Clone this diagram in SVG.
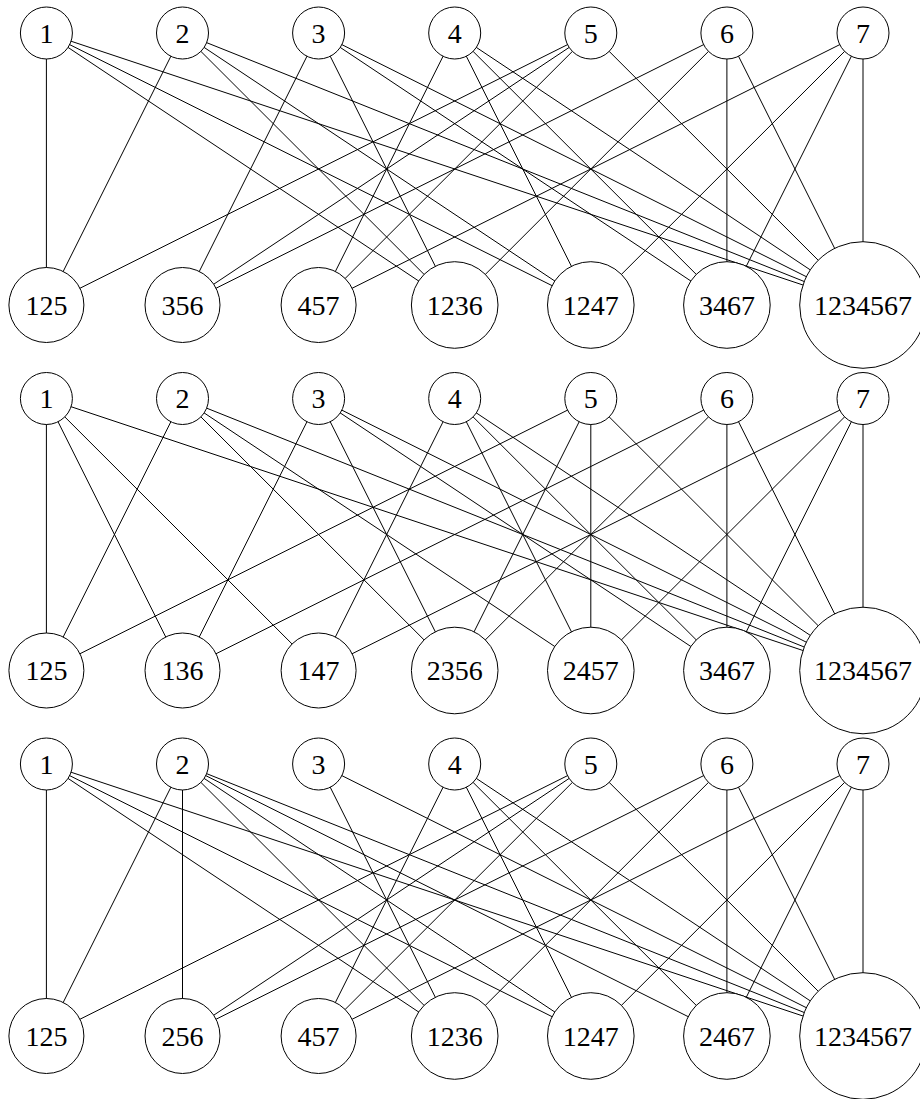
<svg xmlns="http://www.w3.org/2000/svg" width="920" height="1099" viewBox="0 0 920 1099">
  <style>
    .edge { stroke: #000; stroke-width: 1; fill: none; }
    .node circle { fill: #fff; stroke: #000; stroke-width: 1; }
    .node text { font-family: "Liberation Serif", "Times New Roman", serif; font-size: 28px; text-anchor: middle; fill: #000; }
  </style>

  <!-- Graph A: top row y=33, bottom row y=305 -->
  <g id="graph-a">
    <g id="edges-a">
      <line class="edge" x1="46.4" y1="33" x2="46.4" y2="305"/>
      <line class="edge" x1="46.4" y1="33" x2="454.7" y2="305"/>
      <line class="edge" x1="46.4" y1="33" x2="590.8" y2="305"/>
      <line class="edge" x1="46.4" y1="33" x2="863" y2="305"/>
      <line class="edge" x1="182.5" y1="33" x2="46.4" y2="305"/>
      <line class="edge" x1="182.5" y1="33" x2="454.7" y2="305"/>
      <line class="edge" x1="182.5" y1="33" x2="590.8" y2="305"/>
      <line class="edge" x1="182.5" y1="33" x2="863" y2="305"/>
      <line class="edge" x1="318.6" y1="33" x2="182.5" y2="305"/>
      <line class="edge" x1="318.6" y1="33" x2="454.7" y2="305"/>
      <line class="edge" x1="318.6" y1="33" x2="726.9" y2="305"/>
      <line class="edge" x1="318.6" y1="33" x2="863" y2="305"/>
      <line class="edge" x1="454.7" y1="33" x2="318.6" y2="305"/>
      <line class="edge" x1="454.7" y1="33" x2="590.8" y2="305"/>
      <line class="edge" x1="454.7" y1="33" x2="726.9" y2="305"/>
      <line class="edge" x1="454.7" y1="33" x2="863" y2="305"/>
      <line class="edge" x1="590.8" y1="33" x2="46.4" y2="305"/>
      <line class="edge" x1="590.8" y1="33" x2="182.5" y2="305"/>
      <line class="edge" x1="590.8" y1="33" x2="318.6" y2="305"/>
      <line class="edge" x1="590.8" y1="33" x2="863" y2="305"/>
      <line class="edge" x1="726.9" y1="33" x2="182.5" y2="305"/>
      <line class="edge" x1="726.9" y1="33" x2="454.7" y2="305"/>
      <line class="edge" x1="726.9" y1="33" x2="726.9" y2="305"/>
      <line class="edge" x1="726.9" y1="33" x2="863" y2="305"/>
      <line class="edge" x1="863" y1="33" x2="318.6" y2="305"/>
      <line class="edge" x1="863" y1="33" x2="590.8" y2="305"/>
      <line class="edge" x1="863" y1="33" x2="726.9" y2="305"/>
      <line class="edge" x1="863" y1="33" x2="863" y2="305"/>
    </g>
    <g id="a-1" class="node"><circle cx="46.4" cy="33" r="26"/><text x="46.4" y="42.5">1</text></g>
    <g id="a-2" class="node"><circle cx="182.5" cy="33" r="26"/><text x="182.5" y="42.5">2</text></g>
    <g id="a-3" class="node"><circle cx="318.6" cy="33" r="26"/><text x="318.6" y="42.5">3</text></g>
    <g id="a-4" class="node"><circle cx="454.7" cy="33" r="26"/><text x="454.7" y="42.5">4</text></g>
    <g id="a-5" class="node"><circle cx="590.8" cy="33" r="26"/><text x="590.8" y="42.5">5</text></g>
    <g id="a-6" class="node"><circle cx="726.9" cy="33" r="26"/><text x="726.9" y="42.5">6</text></g>
    <g id="a-7" class="node"><circle cx="863" cy="33" r="26"/><text x="863" y="42.5">7</text></g>
    <g id="a-125" class="node"><circle cx="46.4" cy="305" r="37.5"/><text x="46.4" y="314.5">125</text></g>
    <g id="a-356" class="node"><circle cx="182.5" cy="305" r="37.5"/><text x="182.5" y="314.5">356</text></g>
    <g id="a-457" class="node"><circle cx="318.6" cy="305" r="37.5"/><text x="318.6" y="314.5">457</text></g>
    <g id="a-1236" class="node"><circle cx="454.7" cy="305" r="43.3"/><text x="454.7" y="314.5">1236</text></g>
    <g id="a-1247" class="node"><circle cx="590.8" cy="305" r="43.3"/><text x="590.8" y="314.5">1247</text></g>
    <g id="a-3467" class="node"><circle cx="726.9" cy="305" r="43.3"/><text x="726.9" y="314.5">3467</text></g>
    <g id="a-1234567" class="node"><circle cx="863" cy="305" r="63.3"/><text x="863" y="314.5">1234567</text></g>
  </g>

  <!-- Graph B: same layout, shifted down -->
  <g id="graph-b" transform="translate(0,365.5)">
    <g id="edges-b">
      <line class="edge" x1="46.4" y1="33" x2="46.4" y2="305"/>
      <line class="edge" x1="46.4" y1="33" x2="182.5" y2="305"/>
      <line class="edge" x1="46.4" y1="33" x2="318.6" y2="305"/>
      <line class="edge" x1="46.4" y1="33" x2="863" y2="305"/>
      <line class="edge" x1="182.5" y1="33" x2="46.4" y2="305"/>
      <line class="edge" x1="182.5" y1="33" x2="454.7" y2="305"/>
      <line class="edge" x1="182.5" y1="33" x2="590.8" y2="305"/>
      <line class="edge" x1="182.5" y1="33" x2="863" y2="305"/>
      <line class="edge" x1="318.6" y1="33" x2="182.5" y2="305"/>
      <line class="edge" x1="318.6" y1="33" x2="454.7" y2="305"/>
      <line class="edge" x1="318.6" y1="33" x2="726.9" y2="305"/>
      <line class="edge" x1="318.6" y1="33" x2="863" y2="305"/>
      <line class="edge" x1="454.7" y1="33" x2="318.6" y2="305"/>
      <line class="edge" x1="454.7" y1="33" x2="590.8" y2="305"/>
      <line class="edge" x1="454.7" y1="33" x2="726.9" y2="305"/>
      <line class="edge" x1="454.7" y1="33" x2="863" y2="305"/>
      <line class="edge" x1="590.8" y1="33" x2="46.4" y2="305"/>
      <line class="edge" x1="590.8" y1="33" x2="454.7" y2="305"/>
      <line class="edge" x1="590.8" y1="33" x2="590.8" y2="305"/>
      <line class="edge" x1="590.8" y1="33" x2="863" y2="305"/>
      <line class="edge" x1="726.9" y1="33" x2="182.5" y2="305"/>
      <line class="edge" x1="726.9" y1="33" x2="454.7" y2="305"/>
      <line class="edge" x1="726.9" y1="33" x2="726.9" y2="305"/>
      <line class="edge" x1="726.9" y1="33" x2="863" y2="305"/>
      <line class="edge" x1="863" y1="33" x2="318.6" y2="305"/>
      <line class="edge" x1="863" y1="33" x2="590.8" y2="305"/>
      <line class="edge" x1="863" y1="33" x2="726.9" y2="305"/>
      <line class="edge" x1="863" y1="33" x2="863" y2="305"/>
    </g>
    <g id="b-1" class="node"><circle cx="46.4" cy="33" r="26"/><text x="46.4" y="42.5">1</text></g>
    <g id="b-2" class="node"><circle cx="182.5" cy="33" r="26"/><text x="182.5" y="42.5">2</text></g>
    <g id="b-3" class="node"><circle cx="318.6" cy="33" r="26"/><text x="318.6" y="42.5">3</text></g>
    <g id="b-4" class="node"><circle cx="454.7" cy="33" r="26"/><text x="454.7" y="42.5">4</text></g>
    <g id="b-5" class="node"><circle cx="590.8" cy="33" r="26"/><text x="590.8" y="42.5">5</text></g>
    <g id="b-6" class="node"><circle cx="726.9" cy="33" r="26"/><text x="726.9" y="42.5">6</text></g>
    <g id="b-7" class="node"><circle cx="863" cy="33" r="26"/><text x="863" y="42.5">7</text></g>
    <g id="b-125" class="node"><circle cx="46.4" cy="305" r="37.5"/><text x="46.4" y="314.5">125</text></g>
    <g id="b-136" class="node"><circle cx="182.5" cy="305" r="37.5"/><text x="182.5" y="314.5">136</text></g>
    <g id="b-147" class="node"><circle cx="318.6" cy="305" r="37.5"/><text x="318.6" y="314.5">147</text></g>
    <g id="b-2356" class="node"><circle cx="454.7" cy="305" r="43.3"/><text x="454.7" y="314.5">2356</text></g>
    <g id="b-2457" class="node"><circle cx="590.8" cy="305" r="43.3"/><text x="590.8" y="314.5">2457</text></g>
    <g id="b-3467" class="node"><circle cx="726.9" cy="305" r="43.3"/><text x="726.9" y="314.5">3467</text></g>
    <g id="b-1234567" class="node"><circle cx="863" cy="305" r="63.3"/><text x="863" y="314.5">1234567</text></g>
  </g>

  <!-- Graph C: same layout, shifted further down -->
  <g id="graph-c" transform="translate(0,731)">
    <g id="edges-c">
      <line class="edge" x1="46.4" y1="33" x2="46.4" y2="305"/>
      <line class="edge" x1="46.4" y1="33" x2="454.7" y2="305"/>
      <line class="edge" x1="46.4" y1="33" x2="590.8" y2="305"/>
      <line class="edge" x1="46.4" y1="33" x2="863" y2="305"/>
      <line class="edge" x1="182.5" y1="33" x2="46.4" y2="305"/>
      <line class="edge" x1="182.5" y1="33" x2="182.5" y2="305"/>
      <line class="edge" x1="182.5" y1="33" x2="454.7" y2="305"/>
      <line class="edge" x1="182.5" y1="33" x2="590.8" y2="305"/>
      <line class="edge" x1="182.5" y1="33" x2="726.9" y2="305"/>
      <line class="edge" x1="182.5" y1="33" x2="863" y2="305"/>
      <line class="edge" x1="318.6" y1="33" x2="454.7" y2="305"/>
      <line class="edge" x1="318.6" y1="33" x2="863" y2="305"/>
      <line class="edge" x1="454.7" y1="33" x2="318.6" y2="305"/>
      <line class="edge" x1="454.7" y1="33" x2="590.8" y2="305"/>
      <line class="edge" x1="454.7" y1="33" x2="726.9" y2="305"/>
      <line class="edge" x1="454.7" y1="33" x2="863" y2="305"/>
      <line class="edge" x1="590.8" y1="33" x2="46.4" y2="305"/>
      <line class="edge" x1="590.8" y1="33" x2="182.5" y2="305"/>
      <line class="edge" x1="590.8" y1="33" x2="318.6" y2="305"/>
      <line class="edge" x1="590.8" y1="33" x2="863" y2="305"/>
      <line class="edge" x1="726.9" y1="33" x2="182.5" y2="305"/>
      <line class="edge" x1="726.9" y1="33" x2="454.7" y2="305"/>
      <line class="edge" x1="726.9" y1="33" x2="726.9" y2="305"/>
      <line class="edge" x1="726.9" y1="33" x2="863" y2="305"/>
      <line class="edge" x1="863" y1="33" x2="318.6" y2="305"/>
      <line class="edge" x1="863" y1="33" x2="590.8" y2="305"/>
      <line class="edge" x1="863" y1="33" x2="726.9" y2="305"/>
      <line class="edge" x1="863" y1="33" x2="863" y2="305"/>
    </g>
    <g id="c-1" class="node"><circle cx="46.4" cy="33" r="26"/><text x="46.4" y="42.5">1</text></g>
    <g id="c-2" class="node"><circle cx="182.5" cy="33" r="26"/><text x="182.5" y="42.5">2</text></g>
    <g id="c-3" class="node"><circle cx="318.6" cy="33" r="26"/><text x="318.6" y="42.5">3</text></g>
    <g id="c-4" class="node"><circle cx="454.7" cy="33" r="26"/><text x="454.7" y="42.5">4</text></g>
    <g id="c-5" class="node"><circle cx="590.8" cy="33" r="26"/><text x="590.8" y="42.5">5</text></g>
    <g id="c-6" class="node"><circle cx="726.9" cy="33" r="26"/><text x="726.9" y="42.5">6</text></g>
    <g id="c-7" class="node"><circle cx="863" cy="33" r="26"/><text x="863" y="42.5">7</text></g>
    <g id="c-125" class="node"><circle cx="46.4" cy="305" r="37.5"/><text x="46.4" y="314.5">125</text></g>
    <g id="c-256" class="node"><circle cx="182.5" cy="305" r="37.5"/><text x="182.5" y="314.5">256</text></g>
    <g id="c-457" class="node"><circle cx="318.6" cy="305" r="37.5"/><text x="318.6" y="314.5">457</text></g>
    <g id="c-1236" class="node"><circle cx="454.7" cy="305" r="43.3"/><text x="454.7" y="314.5">1236</text></g>
    <g id="c-1247" class="node"><circle cx="590.8" cy="305" r="43.3"/><text x="590.8" y="314.5">1247</text></g>
    <g id="c-2467" class="node"><circle cx="726.9" cy="305" r="43.3"/><text x="726.9" y="314.5">2467</text></g>
    <g id="c-1234567" class="node"><circle cx="863" cy="305" r="63.3"/><text x="863" y="314.5">1234567</text></g>
  </g>
</svg>
